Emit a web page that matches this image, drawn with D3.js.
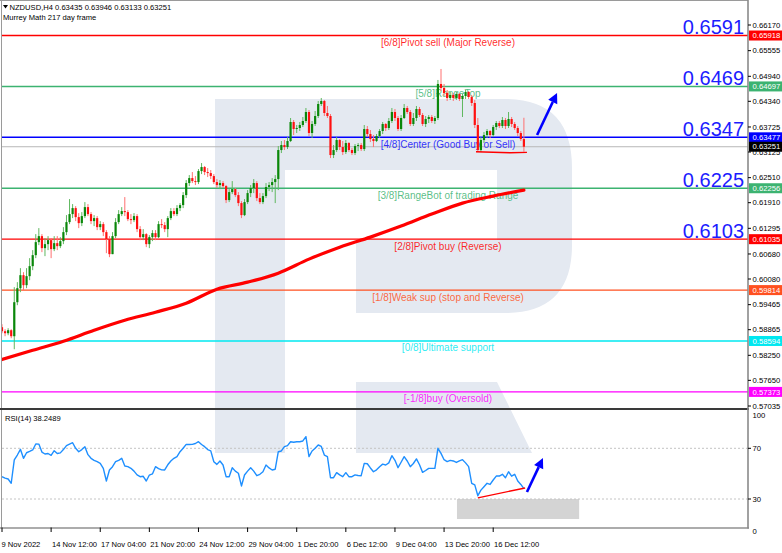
<!DOCTYPE html>
<html><head><meta charset="utf-8">
<script src="https://cdn.jsdelivr.net/npm/d3@7"></script>
<style>
body{margin:0;background:#fff}
svg{display:block}
text{font-family:"Liberation Sans",Arial,sans-serif}
</style>
</head><body>
<svg id="c" width="782" height="553"></svg>
<script>
// ---------------- DATA ----------------
const symbolHeader = "NZDUSD,H4  0.63435 0.63946 0.63133 0.63251";
const indicatorName = "Murrey Math 217 day frame";
const rsiHeader = "RSI(14) 38.2489";

const openP = [
0.58924,0.58828,0.58780,0.58852,0.58708,0.59524,0.59860,0.60172,0.59932,0.60148,
0.60388,0.60652,0.60964,0.61108,0.60820,0.60916,0.61012,0.60796,0.60940,0.60868,
0.60988,0.61204,0.61444,0.61636,0.61780,0.61564,0.61420,0.61588,0.61804,0.61636,
0.61468,0.61540,0.61324,0.61396,0.61204,0.61036,0.60676,0.61108,0.61444,0.61636,
0.61708,0.61684,0.61516,0.61492,0.61588,0.61276,0.61084,0.61156,0.60916,0.61084,
0.61180,0.61084,0.61396,0.61372,0.61276,0.61540,0.61708,0.61636,0.61780,0.61852,
0.62092,0.62380,0.62500,0.62428,0.62404,0.62668,0.62764,0.62644,0.62620,0.62548,
0.62404,0.62332,0.62380,0.62308,0.61972,0.62164,0.62236,0.62092,0.61900,0.61612,
0.61924,0.62140,0.62260,0.62380,0.62020,0.61924,0.62068,0.62284,0.62332,0.62404,
0.62476,0.63172,0.63292,0.63244,0.63388,0.63844,0.63676,0.63700,0.63772,0.63868,
0.64084,0.63580,0.63796,0.63988,0.64276,0.64348,0.64060,0.63988,0.63052,0.63172,
0.63412,0.63244,0.63124,0.63340,0.63172,0.63100,0.63268,0.63292,0.63196,0.63676,
0.63556,0.63436,0.63388,0.63508,0.63628,0.63796,0.63700,0.63868,0.64084,0.63940,
0.63676,0.63940,0.64180,0.64084,0.63796,0.63940,0.64156,0.64012,0.63796,0.63916,
0.63964,0.63868,0.63940,0.64756,0.64660,0.64540,0.64420,0.64492,0.64420,0.64516,
0.64396,0.64468,0.64564,0.64444,0.64300,0.63772,0.63172,0.63412,0.63532,0.63628,
0.63532,0.63724,0.63820,0.63748,0.63892,0.63748,0.63916,0.63796,0.63700,0.63580,
0.63435];
const highP = [
0.58996,0.58876,0.58900,0.58876,0.59884,0.60004,0.60340,0.60244,0.60340,0.60580,
0.60772,0.61156,0.61300,0.61156,0.61060,0.61108,0.61060,0.61108,0.61108,0.61084,
0.61324,0.61612,0.61996,0.61876,0.61828,0.61660,0.61684,0.61924,0.61876,0.61684,
0.61612,0.61588,0.61468,0.61444,0.61252,0.61108,0.61204,0.61540,0.61732,0.61804,
0.62044,0.61732,0.61636,0.61660,0.61636,0.61348,0.61276,0.61180,0.61132,0.61252,
0.61252,0.61468,0.61516,0.61444,0.61588,0.61780,0.61780,0.61852,0.61900,0.62164,
0.62452,0.62572,0.62644,0.62548,0.62716,0.62860,0.62788,0.62740,0.62692,0.62596,
0.62476,0.62452,0.62428,0.62332,0.62236,0.62428,0.62260,0.62164,0.61948,0.61996,
0.62212,0.62332,0.62476,0.62428,0.62140,0.62140,0.62380,0.62404,0.62500,0.62572,
0.63268,0.63388,0.63412,0.63484,0.63940,0.63892,0.63772,0.63844,0.63964,0.64180,
0.64132,0.63868,0.64108,0.64348,0.64420,0.64372,0.64228,0.64036,0.63292,0.63484,
0.63436,0.63388,0.63412,0.63364,0.63220,0.63316,0.63340,0.63340,0.63772,0.63748,
0.63652,0.63532,0.63556,0.63676,0.63844,0.63820,0.63940,0.64180,0.64156,0.63988,
0.64012,0.64276,0.64228,0.64132,0.64060,0.64228,0.64204,0.64060,0.63988,0.64012,
0.64012,0.63988,0.64852,0.65116,0.64756,0.64612,0.64564,0.64540,0.64564,0.64540,
0.64516,0.64612,0.64588,0.64492,0.64372,0.63940,0.63484,0.63604,0.63676,0.63652,
0.63772,0.63868,0.63868,0.63964,0.63940,0.64084,0.63964,0.63844,0.63748,0.63628,
0.63946];
const lowP = [
0.58780,0.58708,0.58732,0.58660,0.58396,0.59452,0.59764,0.59812,0.59860,0.60052,
0.60292,0.60580,0.60892,0.60724,0.60628,0.60772,0.60580,0.60748,0.60772,0.60820,
0.60916,0.61132,0.61396,0.61540,0.61468,0.61300,0.61348,0.61540,0.61588,0.61396,
0.61348,0.61252,0.61252,0.61108,0.60700,0.60604,0.60844,0.61060,0.61396,0.61588,
0.61588,0.61468,0.61396,0.61444,0.61204,0.61012,0.61012,0.60844,0.60820,0.60988,
0.61012,0.61060,0.61300,0.61204,0.61084,0.61492,0.61588,0.61588,0.61708,0.61780,
0.62020,0.62308,0.62380,0.62332,0.62356,0.62596,0.62572,0.62524,0.62476,0.62356,
0.62260,0.62236,0.62260,0.61900,0.61924,0.62116,0.62044,0.61828,0.61540,0.61588,
0.61876,0.62044,0.62140,0.61948,0.61876,0.61876,0.62020,0.62188,0.62164,0.61900,
0.62212,0.63100,0.63172,0.63196,0.63364,0.63532,0.63580,0.63628,0.63724,0.63820,
0.63508,0.63460,0.63748,0.63940,0.64228,0.63988,0.63940,0.62980,0.62980,0.63124,
0.63172,0.63052,0.63076,0.63124,0.63052,0.63052,0.63148,0.63148,0.63148,0.63484,
0.63364,0.63244,0.63364,0.63460,0.63556,0.63628,0.63652,0.63820,0.63868,0.63628,
0.63628,0.63916,0.64036,0.63748,0.63748,0.63868,0.63964,0.63748,0.63724,0.63820,
0.63820,0.63796,0.63892,0.64588,0.64468,0.64348,0.64372,0.64348,0.64372,0.64348,
0.63964,0.64396,0.64396,0.64228,0.63700,0.63124,0.63124,0.63340,0.63460,0.63460,
0.63484,0.63652,0.63700,0.63700,0.63676,0.63700,0.63724,0.63652,0.63508,0.63388,
0.63133];
const closeP = [
0.58828,0.58780,0.58852,0.58708,0.59524,0.59860,0.60172,0.59932,0.60148,0.60388,
0.60652,0.60964,0.61108,0.60820,0.60916,0.61012,0.60796,0.60940,0.60868,0.60988,
0.61204,0.61444,0.61636,0.61780,0.61564,0.61420,0.61588,0.61804,0.61636,0.61468,
0.61540,0.61324,0.61396,0.61204,0.61036,0.60676,0.61108,0.61444,0.61636,0.61708,
0.61684,0.61516,0.61492,0.61588,0.61276,0.61084,0.61156,0.60916,0.61084,0.61180,
0.61084,0.61396,0.61372,0.61276,0.61540,0.61708,0.61636,0.61780,0.61852,0.62092,
0.62380,0.62500,0.62428,0.62404,0.62668,0.62764,0.62644,0.62620,0.62548,0.62404,
0.62332,0.62380,0.62308,0.61972,0.62164,0.62236,0.62092,0.61900,0.61612,0.61924,
0.62140,0.62260,0.62380,0.62020,0.61924,0.62068,0.62284,0.62332,0.62404,0.62476,
0.63172,0.63292,0.63244,0.63388,0.63844,0.63676,0.63700,0.63772,0.63868,0.64084,
0.63580,0.63796,0.63988,0.64276,0.64348,0.64060,0.63988,0.63052,0.63172,0.63412,
0.63244,0.63124,0.63340,0.63172,0.63100,0.63268,0.63292,0.63196,0.63676,0.63556,
0.63436,0.63388,0.63508,0.63628,0.63796,0.63700,0.63868,0.64084,0.63940,0.63676,
0.63940,0.64180,0.64084,0.63796,0.63940,0.64156,0.64012,0.63796,0.63916,0.63964,
0.63868,0.63940,0.64756,0.64660,0.64540,0.64420,0.64492,0.64420,0.64516,0.64396,
0.64468,0.64564,0.64444,0.64300,0.63772,0.63172,0.63412,0.63532,0.63628,0.63532,
0.63724,0.63820,0.63748,0.63892,0.63748,0.63916,0.63796,0.63700,0.63580,0.63436,
0.63251];

const rsiVals = [
47.6,46.5,45.8,42.4,60.8,64.7,69.2,62.1,66.5,67.5,
68.7,73.4,73.3,67.0,65.5,65.9,64.5,68.1,65.9,66.4,
69.0,72.1,73.3,74.4,70.0,67.3,69.0,71.3,65.0,62.1,
60.5,59.4,58.1,54.2,44.2,52.9,55.5,59.4,60.5,62.1,
56.0,55.5,54.2,52.0,49.0,47.6,47.9,44.2,48.9,49.8,
55.5,54.0,53.0,52.9,57.0,60.0,62.1,63.5,67.3,70.0,
73.1,73.0,73.1,73.8,75.2,73.0,71.3,69.0,68.0,59.4,
57.3,60.0,56.8,47.6,47.6,54.7,52.0,50.3,40.3,48.9,
52.0,54.7,52.0,48.4,49.5,51.5,56.8,54.5,52.9,53.5,
67.3,67.9,71.3,72.1,75.2,74.8,75.2,75.2,75.8,79.2,
63.4,67.9,70.0,72.6,71.5,64.7,63.5,46.8,46.8,50.8,
49.0,47.6,50.8,47.6,47.6,49.0,48.5,48.4,58.1,57.8,
54.5,51.5,53.0,55.5,57.5,56.8,58.5,64.2,60.5,54.7,
59.0,63.4,60.0,55.5,58.0,61.6,57.0,51.0,52.5,54.2,
54.2,54.2,70.0,66.0,61.0,59.5,60.5,60.0,58.8,60.0,
61.0,58.5,55.5,42.4,41.1,32.6,37.0,39.7,42.4,41.5,
45.0,48.1,48.1,49.5,46.8,51.5,48.0,49.5,44.2,41.5,
38.2];

// Moving average (read every 10 bars)
const maIdx  = [0,10,20,30,40,50,60,70,80,90,100,110,120,130,140,150,160,170];
const maVals = [0.58149,0.58372,0.58588,0.58852,0.59092,0.59284,0.59500,0.59836,0.60004,
                0.60220,0.60556,0.60844,0.61084,0.61348,0.61636,0.61900,0.62068,0.62212];

// Murrey Math levels
const levelVals   = [0.65918,0.64697,0.63477,0.62256,0.61035,0.59814,0.58594,0.57373];
const levelNames  = ["[6/8]Pivot sell (Major Reverse)","[5/8]RangeTop","[4/8]Center (Good Buy or Sell)",
                     "[3/8]RangeBot of trading Range","[2/8]Pivot buy (Reverse)","[1/8]Weak sup (stop and Reverse)",
                     "[0/8]Ultimate support","[-1/8]buy (Oversold)"];
const levelColors = ["#ff0000","#3cb371","#0000ff","#3cb371","#ff0000","#ff5020","#00e8f0","#ff00ff"];
const bigLevelLabels = ["0.6591","0.6469","0.6347","0.6225","0.6103"];
const lastPrice = 0.63251;

const priceTicks = [0.66170,0.65555,0.64940,0.64340,0.63725,0.63125,0.62510,0.61910,
                    0.61295,0.60680,0.60080,0.59465,0.58865,0.58250,0.57650,0.57035];
const timeIdx    = [0,16,32,48,64,80,96,112,128,144,160];
const timeLabels = ["9 Nov 2022","14 Nov 12:00","17 Nov 04:00","21 Nov 20:00","24 Nov 12:00",
                    "29 Nov 04:00","1 Dec 20:00","6 Dec 12:00","9 Dec 04:00","13 Dec 20:00","16 Dec 12:00"];
const rsiTicks = [100,70,30,0];
const rsiLevels = [70,30];

// annotations (bar index, value)
const supportLineIdx = [154.4,165.5,171];
const supportLineVal = [0.63131,0.63107,0.63117];
const mainArrowIdx = [174.3,180.8];
const mainArrowVal = [0.63532,0.64540];
const rsiTrendIdx = [155,170.4];
const rsiTrendVal = [30.9,38.7];
const rsiArrowIdx = [171,176.2];
const rsiArrowVal = [35.5,62.3];
const rsiBoxIdx = [148.2,188];
const rsiBoxVal = [14.2,30];

// ---------------- DRAW ----------------
const svg = d3.select("#c");
const XL = 2, XR = 748;
const MAIN_TOP = 0, MAIN_BOT = 408.5, RSI_TOP = 410, RSI_BOT = 527.5;

const x  = d3.scaleLinear().domain([0,243]).range([XL, XR]);
const y  = d3.scaleLinear().domain([0.57035,0.66170]).range([406,25]);
const yr = d3.scaleLinear().domain([30,70]).range([499,448.3]);

const defs = svg.append("defs");
defs.append("clipPath").attr("id","clipMain").append("rect")
  .attr("x",XL).attr("y",MAIN_TOP).attr("width",XR-XL).attr("height",MAIN_BOT-MAIN_TOP);
defs.append("clipPath").attr("id","clipRsi").append("rect")
  .attr("x",XL).attr("y",RSI_TOP).attr("width",XR-XL).attr("height",RSI_BOT-RSI_TOP);

// watermark (logo) behind everything
svg.append("path")
  .attr("d","M215,99 L505,99 Q572,99 572,168 L572,245 Q572,313 505,313 L356,313 L356,240 L497,240 L497,170 L285,170 L285,453 L215,453 Z M356,382 L497,382 L532,453 L356,453 Z")
  .attr("fill","#e4e9f1");

const gMain = svg.append("g").attr("clip-path","url(#clipMain)");
const gRsi  = svg.append("g").attr("clip-path","url(#clipRsi)");

// level lines
levelVals.forEach((v,k)=>{
  gMain.append("line").attr("x1",XL).attr("x2",XR).attr("y1",y(v)).attr("y2",y(v))
    .attr("stroke",levelColors[k]).attr("stroke-width",1.4);
});
// current price line
gMain.append("line").attr("x1",XL).attr("x2",XR).attr("y1",y(lastPrice)).attr("y2",y(lastPrice))
  .attr("stroke","#b8b8b8").attr("stroke-width",1);

// level text
levelVals.forEach((v,k)=>{
  gMain.append("text").attr("x",448).attr("y",y(v)+10.5).attr("text-anchor","middle")
    .attr("font-size","10px").attr("fill",levelColors[k]).attr("fill-opacity",k===2?0.8:0.85)
    .text(levelNames[k]);
});

// big level numbers
bigLevelLabels.forEach((t,k)=>{
  gMain.append("text").attr("x",744).attr("y",y(levelVals[k])-1.5).attr("text-anchor","end")
    .attr("font-size","20px").attr("fill","#1c1cff").text(t);
});

// moving average
const maLine = d3.line().x((d,i)=>x(maIdx[i])).y(d=>y(d)).curve(d3.curveMonotoneX);
gMain.append("path").attr("d",maLine(maVals)).attr("fill","none")
  .attr("stroke","#ff0000").attr("stroke-width",3.2).attr("stroke-linecap","round");

// candles
const bars = closeP.map((c,i)=>({i,o:openP[i],h:highP[i],l:lowP[i],c}));
const gC = gMain.append("g");
bars.forEach(b=>{
  const up = b.c >= b.o;
  const hi = Math.max(b.h,b.o,b.c), lo = Math.min(b.l,b.o,b.c);
  const cx = x(b.i);
  gC.append("line").attr("x1",cx).attr("x2",cx).attr("y1",y(hi)).attr("y2",y(lo))
    .attr("stroke", up ? "#5fb85f" : "#ff7070").attr("stroke-width",1);
  const top = y(Math.max(b.o,b.c)), bot = y(Math.min(b.o,b.c));
  gC.append("rect").attr("x",cx-1.1).attr("width",2.2).attr("y",top).attr("height",Math.max(1,bot-top))
    .attr("fill", up ? "#0a870a" : "#ff1010");
});

// red support line
const sLine = d3.line().x((d,i)=>x(supportLineIdx[i])).y(d=>y(d));
gMain.append("path").attr("d",sLine(supportLineVal)).attr("fill","none")
  .attr("stroke","#ff0000").attr("stroke-width",1.4);

function arrow(g, x0,y0,x1,y1, color, w, hl, hw){
  const ang = Math.atan2(y1-y0,x1-x0);
  const bx = x1 - hl*Math.cos(ang), by = y1 - hl*Math.sin(ang);
  g.append("line").attr("x1",x0).attr("y1",y0).attr("x2",bx).attr("y2",by)
    .attr("stroke",color).attr("stroke-width",w);
  const px = -Math.sin(ang)*hw, py = Math.cos(ang)*hw;
  g.append("path").attr("d",`M${x1},${y1} L${bx+px},${by+py} L${bx-px},${by-py} Z`).attr("fill",color);
}
arrow(svg, x(mainArrowIdx[0]),y(mainArrowVal[0]),x(mainArrowIdx[1]),y(mainArrowVal[1]),"#0000ff",2.6,10,5);

// ---------- RSI panel ----------
gRsi.append("rect").attr("x",x(rsiBoxIdx[0])).attr("width",x(rsiBoxIdx[1])-x(rsiBoxIdx[0]))
  .attr("y",yr(rsiBoxVal[1])).attr("height",yr(rsiBoxVal[0])-yr(rsiBoxVal[1])).attr("fill","#d4d4d4");
rsiLevels.forEach(v=>{
  gRsi.append("line").attr("x1",XL).attr("x2",XR).attr("y1",yr(v)).attr("y2",yr(v))
    .attr("stroke","#c4c4c4").attr("stroke-dasharray","2,2").attr("stroke-width",1);
});
const rLine = d3.line().x((d,i)=>x(i)).y(d=>yr(d));
gRsi.append("path").attr("d",rLine(rsiVals)).attr("fill","none")
  .attr("stroke","#1e8fff").attr("stroke-width",1.4).attr("stroke-linejoin","round");
const tLine = d3.line().x((d,i)=>x(rsiTrendIdx[i])).y(d=>yr(d));
gRsi.append("path").attr("d",tLine(rsiTrendVal)).attr("fill","none").attr("stroke","#ff0000").attr("stroke-width",1.4);
arrow(svg, x(rsiArrowIdx[0]),yr(rsiArrowVal[0]),x(rsiArrowIdx[1]),yr(rsiArrowVal[1]),"#0000ff",2.6,10,5);

// ---------- frames ----------
svg.append("line").attr("x1",1.5).attr("x2",1.5).attr("y1",0).attr("y2",RSI_BOT).attr("stroke","#9a9a9a").attr("stroke-width",1);
svg.append("line").attr("x1",0).attr("x2",XR).attr("y1",0.5).attr("y2",0.5).attr("stroke","#9a9a9a").attr("stroke-width",1);
svg.append("line").attr("x1",0).attr("x2",XR+1).attr("y1",409).attr("y2",409).attr("stroke","#3a3a3a").attr("stroke-width",2);
svg.append("line").attr("x1",0).attr("x2",XR+1).attr("y1",RSI_BOT+0.5).attr("y2",RSI_BOT+0.5).attr("stroke","#5a5a5a").attr("stroke-width",1.2);
svg.append("line").attr("x1",XR).attr("x2",XR).attr("y1",0).attr("y2",RSI_BOT+1).attr("stroke","#8a8a8a").attr("stroke-width",1.6);

// header texts
svg.append("path").attr("d","M3,5 L8,5 L5.5,8.5 Z").attr("fill","#000");
svg.append("text").attr("x",9.5).attr("y",10).attr("font-size","7.6px").attr("fill","#000").text(symbolHeader);
svg.append("text").attr("x",3).attr("y",19.5).attr("font-size","7.6px").attr("fill","#000").text(indicatorName);
svg.append("text").attr("x",5).attr("y",420.5).attr("font-size","7.6px").attr("fill","#000").text(rsiHeader);

// right price axis
const gAx = svg.append("g");
priceTicks.forEach(t=>{
  gAx.append("line").attr("x1",XR).attr("x2",XR+3).attr("y1",y(t)).attr("y2",y(t)).attr("stroke","#000");
  gAx.append("text").attr("x",752.5).attr("y",y(t)).attr("dy","0.35em").attr("font-size","7.7px")
    .attr("fill","#000").text(t.toFixed(5));
});
// level price tags
levelVals.forEach((v,k)=>{
  gAx.append("rect").attr("x",749).attr("y",y(v)-5).attr("width",33).attr("height",10).attr("fill",levelColors[k]);
  gAx.append("text").attr("x",752.5).attr("y",y(v)).attr("dy","0.35em").attr("font-size","7.7px")
    .attr("fill","#fff").text(v.toFixed(5));
});
gAx.append("rect").attr("x",749).attr("y",y(lastPrice)-5).attr("width",33).attr("height",10).attr("fill","#000");
gAx.append("text").attr("x",752.5).attr("y",y(lastPrice)).attr("dy","0.35em").attr("font-size","7.7px")
  .attr("fill","#fff").text(lastPrice.toFixed(5));

// RSI axis labels
rsiTicks.forEach(t=>{
  let yy = yr(t);
  if (t===100) yy = yr(t)+5;
  if (t===0) yy = RSI_BOT+3.5;
  if (t===70 || t===30) gAx.append("line").attr("x1",XR).attr("x2",XR+3).attr("y1",yr(t)).attr("y2",yr(t)).attr("stroke","#000");
  gAx.append("text").attr("x",752.5).attr("y",yy).attr("dy","0.35em").attr("font-size","7.7px").attr("fill","#000").text(t);
});

// time axis
timeIdx.forEach((ix,k)=>{
  const tx = x(ix);
  gAx.append("line").attr("x1",tx).attr("x2",tx).attr("y1",RSI_BOT).attr("y2",RSI_BOT+4.5).attr("stroke","#000");
  gAx.append("text").attr("x",k===0?tx-0.5:tx+0.8).attr("y",547).attr("font-size","7.6px").attr("fill","#000").text(timeLabels[k]);
});
</script>
</body></html>
